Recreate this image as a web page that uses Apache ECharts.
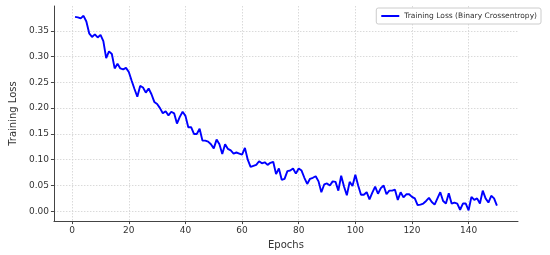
<!DOCTYPE html>
<html>
<head>
<meta charset="utf-8">
<script src="https://cdn.jsdelivr.net/npm/echarts@6/dist/echarts.min.js"></script>
<style>html,body{margin:0;padding:0;background:#fff}#c{width:550px;height:255px}</style>
</head>
<body>
<div id="c"></div>
<script>
const epochs = Array.from({length:150},(_,i)=>i+1);
const loss = [
0.377,0.376,0.374,0.379,0.368,0.345,0.338,0.343,0.337,0.342,
0.330,0.297,0.310,0.305,0.277,0.286,0.277,0.275,0.278,0.270,
0.253,0.237,0.222,0.243,0.240,0.230,0.238,0.227,0.212,0.208,
0.200,0.190,0.194,0.186,0.193,0.190,0.170,0.183,0.193,0.185,
0.163,0.163,0.150,0.150,0.160,0.137,0.137,0.135,0.130,0.122,
0.139,0.130,0.111,0.130,0.121,0.118,0.112,0.114,0.112,0.110,
0.123,0.100,0.086,0.088,0.090,0.097,0.093,0.095,0.090,0.094,
0.096,0.072,0.083,0.061,0.063,0.078,0.079,0.083,0.073,0.083,
0.079,0.065,0.053,0.063,0.065,0.068,0.058,0.037,0.052,0.054,
0.050,0.058,0.057,0.040,0.069,0.048,0.031,0.057,0.049,0.071,
0.050,0.032,0.032,0.037,0.023,0.036,0.048,0.034,0.045,0.050,
0.033,0.040,0.040,0.042,0.022,0.037,0.027,0.033,0.033,0.028,
0.025,0.012,0.013,0.015,0.020,0.026,0.018,0.013,0.025,0.037,
0.020,0.015,0.035,0.015,0.017,0.015,0.003,0.015,0.015,0.002,
0.028,0.022,0.025,0.015,0.040,0.025,0.017,0.030,0.025,0.011
];
const xTicks = [0,20,40,60,80,100,120,140];
const yTicks = [0,0.05,0.10,0.15,0.20,0.25,0.30,0.35];
const seriesName = 'Training Loss (Binary Crossentropy)';

const chart = echarts.init(document.getElementById('c'), null, {renderer:'canvas'});
const font = 'DejaVu Sans';
const gridLine = {show:true, lineStyle:{color:'#d0d0d0', type:[1.5,1.5], width:0.8}};
chart.setOption({
  animation:false,
  textStyle:{fontFamily:font},
  grid:{left:40, right:32, top:6, bottom:28, containLabel:false},
  legend:{
    show:true, right:9, top:8, orient:'horizontal',
    icon:'rect', itemWidth:18, itemHeight:2, itemGap:5,
    padding:[4,4,4,5],
    borderColor:'#cccccc', borderWidth:1, borderRadius:2, backgroundColor:'#fff',
    textStyle:{fontFamily:font, fontSize:7.5, color:'#333'},
    data:[seriesName]
  },
  xAxis:{
    type:'value', min:-6.45, max:157.45,
    name:'Epochs', nameLocation:'middle', nameGap:18,
    nameTextStyle:{fontFamily:font, fontSize:10, color:'#333'},
    axisLine:{show:true, onZero:false, lineStyle:{color:'#444', width:1}},
    axisTick:{show:true, inside:false, length:3, customValues:xTicks, lineStyle:{color:'#444'}},
    axisLabel:{customValues:xTicks, fontSize:9, color:'#333', margin:5, fontFamily:font},
    splitLine:gridLine
  },
  yAxis:{
    type:'value', min:-0.019, max:0.398,
    name:'Training Loss', nameLocation:'middle', nameGap:32, nameRotate:90,
    nameTextStyle:{fontFamily:font, fontSize:10, color:'#333'},
    axisLine:{show:true, onZero:false, lineStyle:{color:'#444', width:1}},
    axisTick:{show:true, inside:false, length:3, customValues:yTicks, lineStyle:{color:'#444'}},
    axisLabel:{customValues:yTicks, fontSize:9, color:'#333', margin:5, fontFamily:font,
      formatter:v=>v.toFixed(2)},
    splitLine:gridLine
  },
  series:[{
    name:seriesName, type:'line', symbol:'none',
    data:epochs.map((e,i)=>[e, loss[i]]),
    lineStyle:{color:'#0000ff', width:1.9},
    itemStyle:{color:'#0000ff'}
  }]
});
</script>
</body>
</html>
